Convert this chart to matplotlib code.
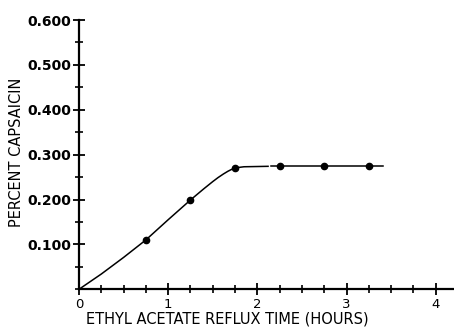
import numpy as np
import matplotlib
matplotlib.use("Agg")
import matplotlib.pyplot as plt
from matplotlib.ticker import MultipleLocator, FixedLocator

# measured points
hours = [0.75, 1.25, 1.75, 2.25, 2.75, 3.25]
capsaicin = [0.110, 0.199, 0.270, 0.274, 0.274, 0.274]

# hand-drawn curve (two pieces, small break near 2.1 h)
curve_x1 = [0.0, 0.25, 0.5, 0.75, 1.0, 1.25, 1.4, 1.5, 1.56, 1.62, 1.67, 1.72, 1.77, 1.85, 2.12]
curve_y1 = [0.0, 0.034, 0.071, 0.110, 0.155, 0.199, 0.224, 0.240, 0.249, 0.257, 0.263, 0.268, 0.271, 0.273, 0.274]
curve_x2 = [2.15, 3.41]
curve_y2 = [0.274, 0.274]

y_ticks = [0.1, 0.2, 0.3, 0.4, 0.5, 0.6]
y_labels = ["0.100", "0.200", "0.300", "0.400", "0.500", "0.600"]
x_ticks = [0, 1, 2, 3, 4]
x_labels = ["0", "1", "2", "3", "4"]

fig = plt.figure(figsize=(4.54, 3.29), dpi=100)
ax = fig.add_axes([0.174, 0.1207, 0.825, 0.8185])

ax.plot(curve_x1, curve_y1, color="black", lw=1.1)
ax.plot(curve_x2, curve_y2, color="black", lw=1.1)
ax.plot(hours, capsaicin, "o", color="black", ms=4.5)

ax.set_xlim(0, 4.2)
ax.set_ylim(0, 0.6)
for s in ("top", "right"):
    ax.spines[s].set_visible(False)
for s in ("left", "bottom"):
    ax.spines[s].set_linewidth(1.6)

ax.xaxis.set_major_locator(FixedLocator(x_ticks))
ax.xaxis.set_minor_locator(MultipleLocator(0.25))
ax.yaxis.set_major_locator(FixedLocator(y_ticks))
ax.yaxis.set_minor_locator(MultipleLocator(0.05))
ax.set_xticklabels(x_labels)
ax.set_yticklabels(y_labels)

ax.tick_params(which="major", direction="inout", length=9, width=1.3)
ax.tick_params(which="minor", direction="inout", length=6, width=1.2)
ax.tick_params(axis="y", which="major", labelsize=10, pad=1)
ax.tick_params(axis="x", which="major", labelsize=9.5, pad=1.5)
for lab in ax.get_yticklabels():
    lab.set_fontweight("bold")

ax.set_xlabel("ETHYL ACETATE REFLUX TIME (HOURS)", fontsize=10.5, labelpad=0)
ax.xaxis.set_label_coords(0.395, -0.083)
ax.set_ylabel("PERCENT CAPSAICIN", fontsize=10.5, labelpad=2)
ax.yaxis.set_label_coords(-0.148, 0.507)

fig.savefig("out.png", dpi=100)
plt.close(fig)
